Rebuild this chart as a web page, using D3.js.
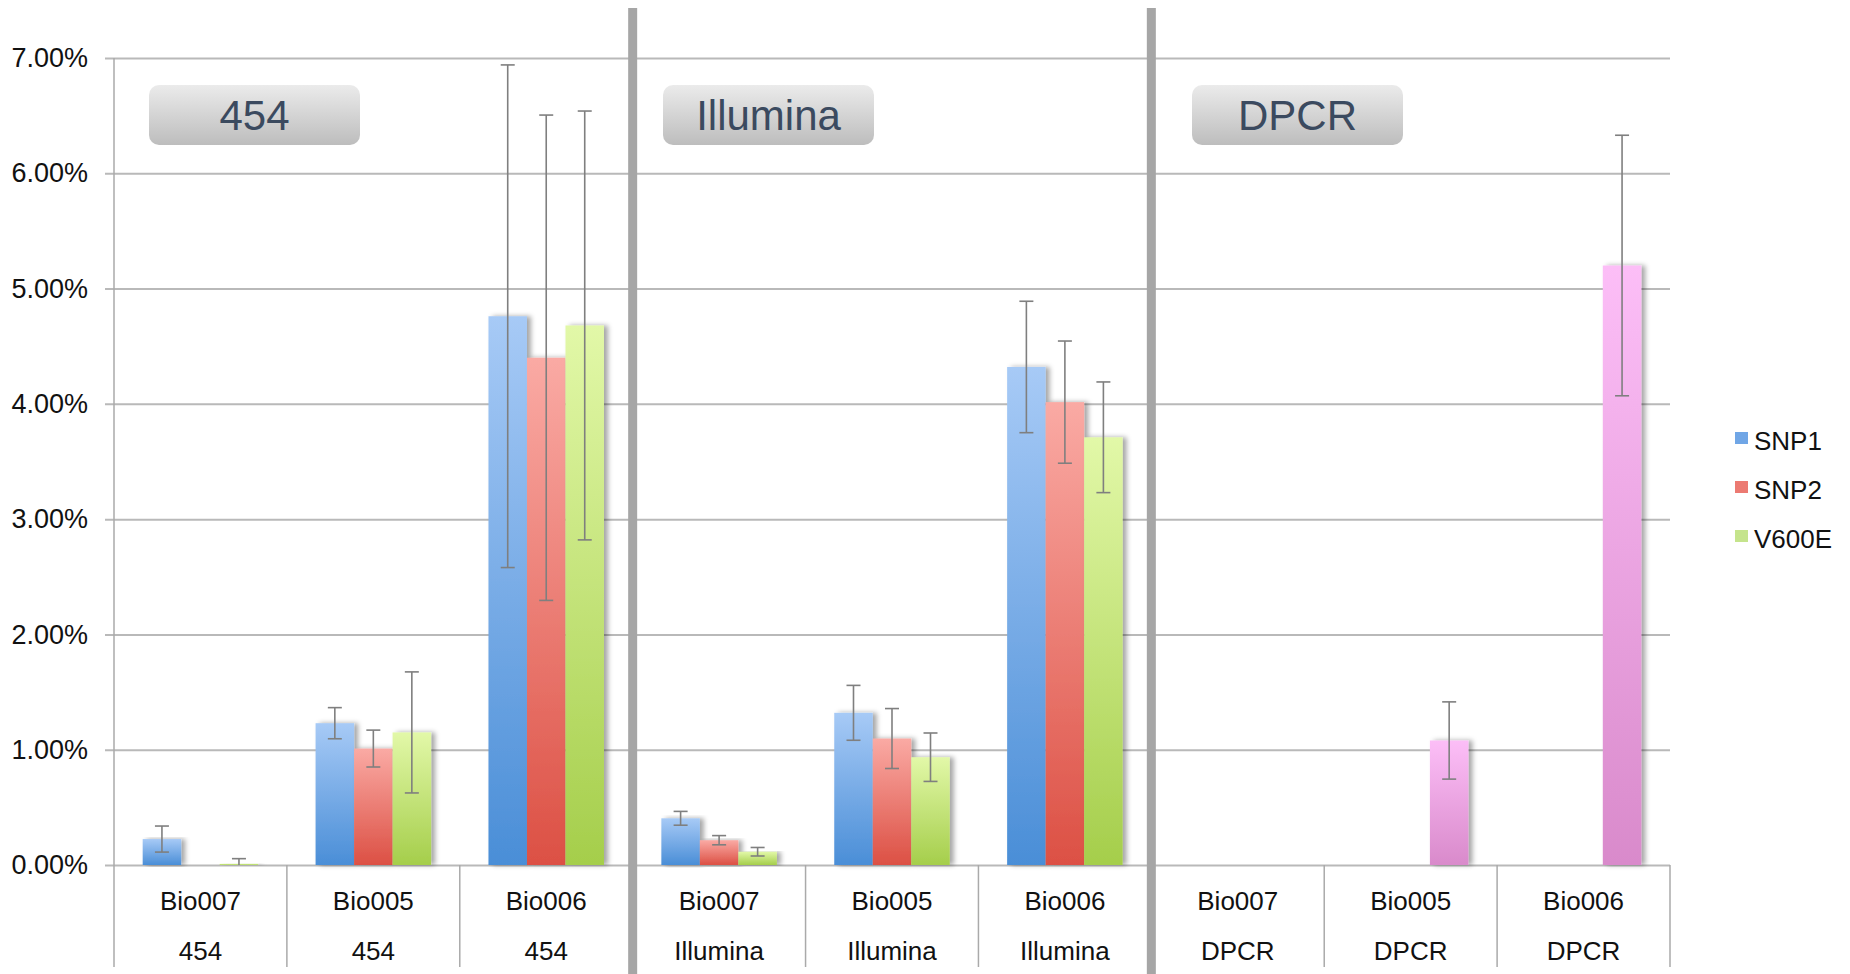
<!DOCTYPE html>
<html>
<head>
  <meta charset="utf-8">
  <title>SNP1 / SNP2 / V600E by platform</title>
  <script src="https://d3js.org/d3.v7.min.js"></script>
  <style>
    html, body { margin: 0; padding: 0; background: #fff; }
    body { font-family: "Liberation Sans", Arial, sans-serif; }
    svg { display: block; }
  </style>
</head>
<body>
<div id="chart"></div>

<script>
// data (percent)
const platforms = ["454", "Illumina", "DPCR"];
const samples = ["Bio007", "Bio005", "Bio006"];
const series = ["SNP1", "SNP2", "V600E"];

const snp1     = [0.225, 1.23, 4.76, 0.405, 1.32, 4.32, null, null, null];
const snp1Err  = [0.113, 0.135, 2.18, 0.06, 0.238, 0.57, null, null, null];
const snp2     = [0, 1.01, 4.40, 0.215, 1.097, 4.015, null, null, null];
const snp2Err  = [null, 0.16, 2.105, 0.04, 0.26, 0.53, null, null, null];
const v600e    = [0.01, 1.15, 4.68, 0.115, 0.935, 3.71, 0, 1.08, 5.2];
const v600eErr = [0.045, 0.525, 1.86, 0.037, 0.21, 0.48, null, 0.335, 1.13];

const yTicks = [0, 1, 2, 3, 4, 5, 6, 7];

// layout
const W = 1850, H = 974;
const plotL = 114, plotR = 1670, plotT = 58, base = 865, axisBottom = 967;
const boxX = [149, 663, 1192];
const font = "'Liberation Sans', Arial, sans-serif";

const categories = [];
platforms.forEach(p => samples.forEach(s => categories.push({ sample: s, platform: p })));

const values = [snp1, snp2, v600e];
const errors = [snp1Err, snp2Err, v600eErr];

const svg = d3.select("#chart").append("svg")
  .attr("width", W)
  .attr("height", H);

const defs = svg.append("defs");

const grads = {
  SNP1:  ["#a7caf6", "#4a8ed7"],
  SNP2:  ["#faaaa4", "#dc5044"],
  V600E: ["#e2f8a8", "#a5ce4b"],
  DPCR:  ["#fcbef7", "#d98acb"]
};
const swatch = { SNP1: "#70a6e6", SNP2: "#ec7a72", V600E: "#c5e48c" };

Object.entries(grads).forEach(([k, c]) => {
  const g = defs.append("linearGradient")
    .attr("id", "g-" + k)
    .attr("x1", 0).attr("y1", 0).attr("x2", 0).attr("y2", 1);
  g.append("stop").attr("offset", "0%").attr("stop-color", c[0]);
  g.append("stop").attr("offset", "100%").attr("stop-color", c[1]);
});

const boxGrad = defs.append("linearGradient")
  .attr("id", "g-box").attr("x1", 0).attr("y1", 0).attr("x2", 0).attr("y2", 1);
boxGrad.append("stop").attr("offset", "0%").attr("stop-color", "#ebebeb");
boxGrad.append("stop").attr("offset", "100%").attr("stop-color", "#bdbdbd");

defs.append("filter")
  .attr("id", "shadow")
  .attr("x", "-20%").attr("y", "-5%").attr("width", "160%").attr("height", "110%")
  .append("feDropShadow")
  .attr("dx", 4).attr("dy", 0).attr("stdDeviation", 2.5)
  .attr("flood-color", "#000").attr("flood-opacity", 0.35);

const x = d3.scaleBand()
  .domain(d3.range(categories.length))
  .range([plotL, plotR])
  .paddingInner(0).paddingOuter(0);

const xs = d3.scaleBand()
  .domain(series)
  .range([0, x.bandwidth()])
  .paddingInner(0).paddingOuter(0.745);

const y = d3.scaleLinear().domain([0, 7]).range([base, plotT]);

// gridlines + y labels
const yAxis = svg.append("g")
  .attr("transform", `translate(105,0)`)
  .call(d3.axisLeft(y)
    .tickValues(yTicks)
    .tickSize(-(plotR - 105))
    .tickPadding(17)
    .tickFormat(d => d3.format(".2f")(d) + "%"));
yAxis.select(".domain").remove();
yAxis.selectAll(".tick line").attr("stroke", "#b9b9b9").attr("stroke-width", 2);
yAxis.selectAll(".tick text")
  .attr("font-family", font)
  .attr("font-size", 27)
  .attr("fill", "#111");

// y axis line
svg.append("line")
  .attr("x1", plotL).attr("x2", plotL)
  .attr("y1", plotT).attr("y2", axisBottom)
  .attr("stroke", "#aaa").attr("stroke-width", 1.5);

// category separators below the axis
svg.append("g").selectAll("line")
  .data(d3.range(1, categories.length + 1))
  .join("line")
    .attr("x1", i => plotL + i * x.step()).attr("x2", i => plotL + i * x.step())
    .attr("y1", base).attr("y2", axisBottom)
    .attr("stroke", "#aaa").attr("stroke-width", 1.5);

// bars
const barData = [];
categories.forEach((c, i) => {
  series.forEach((s, j) => {
    const v = values[j][i];
    if (v === null) return;
    barData.push({ i, s, v, e: errors[j][i], fill: c.platform === "DPCR" ? "DPCR" : s });
  });
});

svg.append("g").selectAll("rect")
  .data(barData.filter(d => d.v > 0))
  .join("rect")
    .attr("x", d => x(d.i) + xs(d.s))
    .attr("y", d => y(d.v))
    .attr("width", xs.bandwidth())
    .attr("height", d => base - y(d.v))
    .attr("fill", d => `url(#g-${d.fill})`)
    .attr("filter", "url(#shadow)");

// error bars
const eb = svg.append("g")
  .attr("stroke", "#7f7f7f").attr("stroke-width", 1.6).attr("fill", "none");
barData.filter(d => d.e !== null).forEach(d => {
  const cx = x(d.i) + xs(d.s) + xs.bandwidth() / 2;
  const hi = y(d.v + d.e), lo = y(Math.max(0, d.v - d.e));
  eb.append("line").attr("x1", cx).attr("x2", cx).attr("y1", hi).attr("y2", lo);
  eb.append("line").attr("x1", cx - 7).attr("x2", cx + 7).attr("y1", hi).attr("y2", hi);
  if (d.v - d.e > 0)
    eb.append("line").attr("x1", cx - 7).attr("x2", cx + 7).attr("y1", lo).attr("y2", lo);
});

// category labels (two rows)
const lab = svg.append("g")
  .attr("font-family", font)
  .attr("font-size", 26).attr("fill", "#111").attr("text-anchor", "middle");
categories.forEach((c, i) => {
  const cx = x(i) + x.bandwidth() / 2;
  lab.append("text").attr("x", cx).attr("y", 910).text(c.sample);
  lab.append("text").attr("x", cx).attr("y", 960).text(c.platform);
});

// thick panel separators
svg.append("g").selectAll("rect")
  .data([3, 6])
  .join("rect")
    .attr("x", i => plotL + i * x.step() - 4.5)
    .attr("y", 8)
    .attr("width", 9)
    .attr("height", H - 8)
    .attr("fill", "#a6a6a6");

// panel title boxes
platforms.forEach((p, k) => {
  const g = svg.append("g").attr("transform", `translate(${boxX[k]},85)`);
  g.append("rect")
    .attr("width", 211).attr("height", 60).attr("rx", 10).attr("ry", 10)
    .attr("fill", "url(#g-box)");
  g.append("text")
    .attr("x", 105.5).attr("y", 45)
    .attr("text-anchor", "middle")
    .attr("font-family", font)
    .attr("font-size", 42)
    .attr("fill", "#3b4a5f")
    .text(p);
});

// legend
const leg = svg.append("g");
series.forEach((s, j) => {
  const yy = 450 + j * 49;
  leg.append("rect")
    .attr("x", 1735).attr("y", yy - 18).attr("width", 13).attr("height", 12)
    .attr("fill", swatch[s]);
  leg.append("text")
    .attr("x", 1754).attr("y", yy)
    .attr("font-family", font)
    .attr("font-size", 26).attr("fill", "#111")
    .text(s);
});
</script>
</body>
</html>
